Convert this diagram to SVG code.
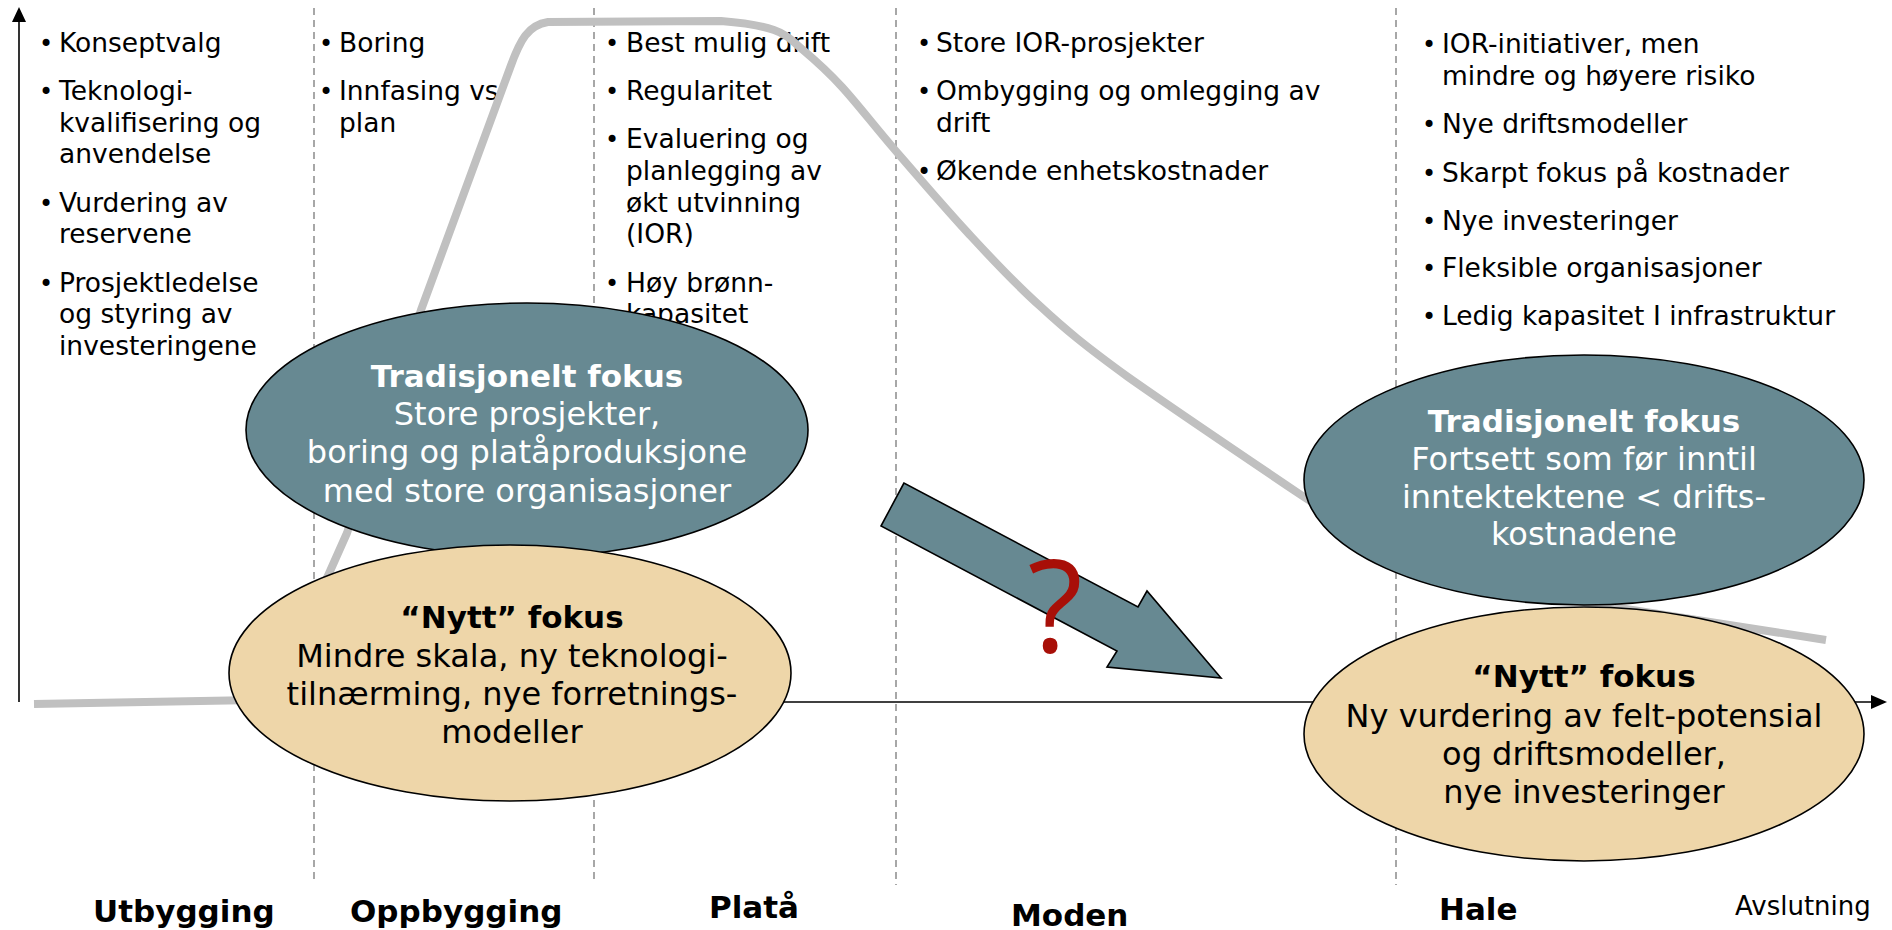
<svg xmlns="http://www.w3.org/2000/svg" width="1892" height="930" viewBox="0 0 1892 930">
<style>
.bg{fill:#ffffff}
.dash{stroke:#8a8a8a;stroke-width:1.5;stroke-dasharray:7,5;fill:none}
.axis{stroke:#000;stroke-width:1.6;fill:none}
.curve{stroke:#c0c0c0;stroke-width:8;fill:none;stroke-linejoin:round}
.txt{font-family:"DejaVu Sans",Verdana,sans-serif;font-size:26.5px;fill:#000}
.bul{font-family:"DejaVu Sans",Verdana,sans-serif;font-size:24px;fill:#000}
.teal{fill:#678992;stroke:#000;stroke-width:1.6}
.tan{fill:#eed6a9;stroke:#000;stroke-width:1.6}
.eh{font-family:"DejaVu Sans",Verdana,sans-serif;font-size:31px;font-weight:bold;text-anchor:middle}
.eb{font-family:"DejaVu Sans",Verdana,sans-serif;font-size:32px;text-anchor:middle}
.w{fill:#ffffff}
.k{fill:#000000}
.phase{font-family:"DejaVu Sans",Verdana,sans-serif;font-size:31px;font-weight:bold;fill:#000}
</style>
<rect class="bg" x="0" y="0" width="1892" height="930"/>

<g id="grid">
<line class="dash" x1="314" y1="8" x2="314" y2="884"/>
<line class="dash" x1="594" y1="8" x2="594" y2="880"/>
<line class="dash" x1="896" y1="8" x2="896" y2="885"/>
<line class="dash" x1="1396" y1="8" x2="1396" y2="885"/>
</g>

<g id="axes">
<line class="axis" x1="19" y1="702" x2="19" y2="20"/>
<polygon points="19,7 12,22 26,22" fill="#000"/>
<line class="axis" x1="240" y1="702" x2="1873" y2="702"/>
<polygon points="1887,702 1871,695 1871,709" fill="#000"/>
</g>

<g id="col-utbygging">
<text class="bul" x="39" y="52">•</text>
<text class="txt" x="59" y="52">Konseptvalg</text>
<text class="bul" x="39" y="100">•</text>
<text class="txt" x="59" y="100">Teknologi-<tspan x="59" y="132">kvalifisering og</tspan><tspan x="59" y="163">anvendelse</tspan></text>
<text class="bul" x="39" y="212">•</text>
<text class="txt" x="59" y="212">Vurdering av<tspan x="59" y="243">reservene</tspan></text>
<text class="bul" x="39" y="292">•</text>
<text class="txt" x="59" y="292">Prosjektledelse<tspan x="59" y="323">og styring av</tspan><tspan x="59" y="355">investeringene</tspan></text>
</g>

<g id="col-oppbygging">
<text class="bul" x="319" y="52">•</text>
<text class="txt" x="339" y="52">Boring</text>
<text class="bul" x="319" y="100">•</text>
<text class="txt" x="339" y="100">Innfasing vs<tspan x="339" y="132">plan</tspan></text>
</g>

<g id="col-plata">
<text class="bul" x="605" y="52">•</text>
<text class="txt" x="626" y="52">Best mulig drift</text>
<text class="bul" x="605" y="100">•</text>
<text class="txt" x="626" y="100">Regularitet</text>
<text class="bul" x="605" y="148">•</text>
<text class="txt" x="626" y="148">Evaluering og<tspan x="626" y="180">planlegging av</tspan><tspan x="626" y="212">økt utvinning</tspan><tspan x="626" y="243">(IOR)</tspan></text>
<text class="bul" x="605" y="292">•</text>
<text class="txt" x="626" y="292">Høy brønn-<tspan x="626" y="323">kapasitet</tspan></text>
</g>

<g id="col-moden">
<text class="bul" x="917" y="52">•</text>
<text class="txt" x="936" y="52">Store IOR-prosjekter</text>
<text class="bul" x="917" y="100">•</text>
<text class="txt" x="936" y="100">Ombygging og omlegging av<tspan x="936" y="132">drift</tspan></text>
<text class="bul" x="917" y="180">•</text>
<text class="txt" x="936" y="180">Økende enhetskostnader</text>
</g>

<g id="col-hale">
<text class="bul" x="1422" y="53">•</text>
<text class="txt" x="1442" y="53">IOR-initiativer, men<tspan x="1442" y="85">mindre og høyere risiko</tspan></text>
<text class="bul" x="1422" y="133">•</text>
<text class="txt" x="1442" y="133">Nye driftsmodeller</text>
<text class="bul" x="1422" y="182">•</text>
<text class="txt" x="1442" y="182">Skarpt fokus på kostnader</text>
<text class="bul" x="1422" y="230">•</text>
<text class="txt" x="1442" y="230">Nye investeringer</text>
<text class="bul" x="1422" y="277">•</text>
<text class="txt" x="1442" y="277">Fleksible organisasjoner</text>
<text class="bul" x="1422" y="325">•</text>
<text class="txt" x="1442" y="325">Ledig kapasitet I infrastruktur</text>
</g>

<g id="connectors">
<path class="curve" d="M34,704 L262,700 Q274,699 278,688 L347,533 L421,310 L510,68 C520,40 528,25 548,22 L721,21 C740,22.5 760.3,25.2 774,30 C787.7,34.8 791.7,40.5 803,50 C814.3,59.5 826.7,70.3 842,87 C857.3,103.7 874,125.7 895,150 C916,174.3 943.8,206.7 968,233 C992,259 1013,282 1040,306 C1066,330 1084,345 1128,377 C1172,408 1258,466 1304,497 C1400,560 1500,588 1600,605 L1826,640"/>
</g>

<g id="trad-left">
<ellipse class="teal" cx="527" cy="430" rx="281" ry="127"/>
<text class="eh w" x="527" y="387">Tradisjonelt fokus</text>
<text class="eb w" x="527" y="425">Store prosjekter,<tspan x="527" y="463">boring og platåproduksjone</tspan><tspan x="527" y="502">med store organisasjoner</tspan></text>
</g>

<g id="nytt-left">
<ellipse class="tan" cx="510" cy="673" rx="281" ry="128"/>
<text class="eh k" x="512" y="628">“Nytt” fokus</text>
<text class="eb k" x="512" y="667">Mindre skala, ny teknologi-<tspan x="512" y="705">tilnærming, nye forretnings-</tspan><tspan x="512" y="743">modeller</tspan></text>
</g>

<g id="trad-right">
<ellipse class="teal" cx="1584" cy="480" rx="280" ry="125"/>
<text class="eh w" x="1584" y="432">Tradisjonelt fokus</text>
<text class="eb w" x="1584" y="470">Fortsett som før inntil<tspan x="1584" y="508">inntektektene &lt; drifts-</tspan><tspan x="1584" y="545">kostnadene</tspan></text>
</g>

<g id="nytt-right">
<ellipse class="tan" cx="1584" cy="734" rx="280" ry="127"/>
<text class="eh k" x="1584" y="687">“Nytt” fokus</text>
<text class="eb k" x="1584" y="727">Ny vurdering av felt-potensial<tspan x="1584" y="765">og driftsmodeller,</tspan><tspan x="1584" y="803">nye investeringer</tspan></text>
</g>

<g id="shift-arrow">
<polygon points="904,483 881,526 1117,651 1107,667 1221,678 1147,591 1138,607" fill="#678992" stroke="#000" stroke-width="1.6" stroke-linejoin="miter"/>
<text x="1055" y="652" font-family="'Open Sans','DejaVu Sans',sans-serif" font-size="128" fill="#a80f08" text-anchor="middle">?</text>
</g>

<g id="phases">
<text class="phase" x="93" y="922">Utbygging</text>
<text class="phase" x="350" y="922">Oppbygging</text>
<text class="phase" x="709" y="918">Platå</text>
<text class="phase" x="1011" y="926">Moden</text>
<text class="phase" x="1439" y="920">Hale</text>
<text x="1735" y="915" font-family="'DejaVu Sans',Verdana,sans-serif" font-size="26px" fill="#000">Avslutning</text>
</g>
</svg>
